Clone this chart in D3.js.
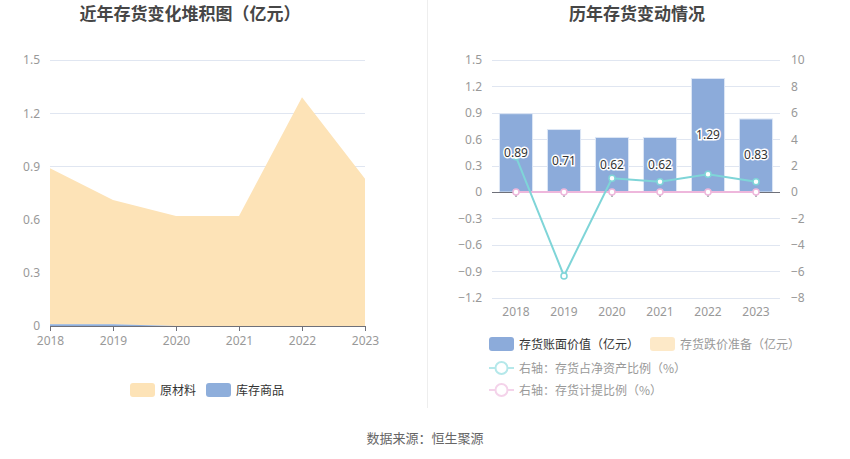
<!DOCTYPE html>
<html>
<head>
<meta charset="utf-8">
<script src="https://cdn.jsdelivr.net/npm/d3@7"></script>
<style>
  body { margin: 0; background: #fff; font-family: "Noto Sans CJK SC", "Noto Sans", sans-serif; }
</style>
</head>
<body>
<div id="chart"></div>
<script>
;(function () {
  const years = ["2018", "2019", "2020", "2021", "2022", "2023"]
  // left: stacked areas (亿元)
  const goods = [0.01, 0.01, 0, 0, 0, 0]
  const rawMaterials = [0.88, 0.70, 0.62, 0.62, 1.29, 0.83]
  const leftTicks = [0, 0.3, 0.6, 0.9, 1.2, 1.5]
  // right: bars and lines
  const bookValue = [0.89, 0.71, 0.62, 0.62, 1.29, 0.83]
  const netAssetRatio = [2.67, -6.36, 1.04, 0.78, 1.34, 0.78]
  const provisionRatio = [0, 0, 0, 0, 0, 0]
  const barTicks = [-1.2, -0.9, -0.6, -0.3, 0, 0.3, 0.6, 0.9, 1.2, 1.5]
  const rightTicks = [-8, -6, -4, -2, 0, 2, 4, 6, 8, 10]

  const width = 850
  const height = 459
  const gray = "#999"
  const gridColor = "#e0e6f1"

  const svg = d3.select("#chart").append("svg").attr("width", width).attr("height", height)

  // titles
  svg.append("text").attr("x", 190).attr("y", 20).attr("text-anchor", "middle")
    .attr("font-size", 17).attr("font-weight", "bold").attr("fill", "#464646").text("近年存货变化堆积图（亿元）")
  svg.append("text").attr("x", 637).attr("y", 20).attr("text-anchor", "middle")
    .attr("font-size", 17).attr("font-weight", "bold").attr("fill", "#464646").text("历年存货变动情况")

  // separator
  svg.append("line").attr("x1", 427.5).attr("x2", 427.5).attr("y1", 0).attr("y2", 408)
    .attr("stroke", "#eeeeee")

  // ---------- left chart ----------
  const xL = d3.scalePoint().domain(years).range([50, 365])
  const yL = d3.scaleLinear().domain([0, 1.5]).range([326, 60])

  svg.append("g").selectAll("line").data(leftTicks.filter(d => d > 0)).join("line")
    .attr("x1", 50).attr("x2", 365)
    .attr("y1", d => Math.round(yL(d)) + 0.5).attr("y2", d => Math.round(yL(d)) + 0.5)
    .attr("stroke", gridColor)

  const stackData = years.map((y, i) => ({ year: y, goods: goods[i], raw: rawMaterials[i] }))
  const stacked = d3.stack().keys(["goods", "raw"])(stackData)
  const areaColors = { goods: "#8eaedb", raw: "#fde3b7" }
  const area = d3.area()
    .x(d => xL(d.data.year))
    .y0(d => yL(d[0]))
    .y1(d => yL(d[1]))

  svg.append("g").selectAll("path").data(stacked.slice().reverse()).join("path")
    .attr("d", area)
    .attr("fill", d => areaColors[d.key])

  svg.append("g").attr("transform", "translate(0,326)")
    .call(d3.axisBottom(xL).tickSize(5).tickSizeOuter(0))
    .call(g => g.select(".domain").attr("stroke", "#6e7079"))
    .call(g => g.selectAll(".tick line").attr("stroke", "#6e7079"))
    .call(g => g.selectAll("text").attr("fill", gray).attr("font-size", 12).attr("dy", "0.9em")
      .attr("font-family", "'Noto Sans', sans-serif"))

  svg.append("g").attr("transform", "translate(43,0)")
    .call(d3.axisLeft(yL).tickValues(leftTicks).tickSize(0).tickFormat(d3.format("")))
    .call(g => g.select(".domain").remove())
    .call(g => g.selectAll("text").attr("fill", gray).attr("font-size", 12)
      .attr("font-family", "'Noto Sans', sans-serif"))

  // left legend
  const legL = [{ name: "原材料", color: "#fde3b7", x: 130 }, { name: "库存商品", color: "#8eaedb", x: 206 }]
  const lg = svg.append("g").selectAll("g").data(legL).join("g")
    .attr("transform", d => `translate(${d.x},383)`)
  lg.append("rect").attr("width", 25).attr("height", 14).attr("rx", 3).attr("fill", d => d.color)
  lg.append("text").attr("x", 30).attr("y", 12).attr("font-size", 12).attr("fill", "#333")
    .text(d => d.name)

  // ---------- right chart ----------
  const xR = d3.scaleBand().domain(years).range([492, 780]).paddingInner(0.31).paddingOuter(0.155)
  const yR = d3.scaleLinear().domain([-1.2, 1.5]).range([297.6, 60])
  const yR2 = d3.scaleLinear().domain([-8, 10]).range([297.6, 60])

  svg.append("g").selectAll("line").data(barTicks.filter(d => d !== 0)).join("line")
    .attr("x1", 492).attr("x2", 780)
    .attr("y1", d => Math.round(yR(d)) + 0.5).attr("y2", d => Math.round(yR(d)) + 0.5)
    .attr("stroke", gridColor)

  svg.append("g").selectAll("rect").data(bookValue).join("rect")
    .attr("x", (d, i) => xR(years[i]))
    .attr("width", xR.bandwidth())
    .attr("y", d => yR(d))
    .attr("height", d => yR(0) - yR(d))
    .attr("fill", "#8cabda")
    .attr("stroke", "#dde6f5")
    .attr("stroke-width", 1)

  // zero axis
  svg.append("line").attr("x1", 492).attr("x2", 780)
    .attr("y1", Math.round(yR(0)) + 0.5).attr("y2", Math.round(yR(0)) + 0.5)
    .attr("stroke", "#6e7079")
  svg.append("g").selectAll("line").data(years).join("line")
    .attr("x1", d => xR(d) + xR.bandwidth() / 2).attr("x2", d => xR(d) + xR.bandwidth() / 2)
    .attr("y1", Math.round(yR(0))).attr("y2", Math.round(yR(0)) + 5)
    .attr("stroke", "#6e7079")

  const cx = (d, i) => xR(years[i]) + xR.bandwidth() / 2
  const line = d3.line().x((d, i) => cx(d, i)).y(d => yR2(d))

  svg.append("path").datum(provisionRatio).attr("d", line)
    .attr("fill", "none").attr("stroke", "#eeb7dc").attr("stroke-width", 2)
  svg.append("path").datum(netAssetRatio).attr("d", line)
    .attr("fill", "none").attr("stroke", "#7fd5d8").attr("stroke-width", 2)

  svg.append("g").selectAll("circle").data(provisionRatio).join("circle")
    .attr("cx", cx).attr("cy", d => yR2(d)).attr("r", 3)
    .attr("fill", "#fff").attr("stroke", "#eeb7dc").attr("stroke-width", 1.5)
  svg.append("g").selectAll("circle").data(netAssetRatio).join("circle")
    .attr("cx", cx).attr("cy", d => yR2(d)).attr("r", 3)
    .attr("fill", "#fff").attr("stroke", "#7fd5d8").attr("stroke-width", 1.5)

  // bar labels
  svg.append("g").selectAll("text").data(bookValue).join("text")
    .attr("x", cx)
    .attr("y", d => (yR(d) + yR(0)) / 2 + 4)
    .attr("text-anchor", "middle")
    .attr("font-size", 12)
    .attr("font-family", "'Noto Sans', sans-serif")
    .attr("fill", "#333")
    .attr("stroke", "#fff").attr("stroke-width", 3).attr("paint-order", "stroke")
    .text(d => d)

  // axes labels
  svg.append("g").attr("transform", "translate(485,0)")
    .call(d3.axisLeft(yR).tickValues(barTicks).tickSize(0).tickFormat(d3.format("")))
    .call(g => g.select(".domain").remove())
    .call(g => g.selectAll("text").attr("fill", gray).attr("font-size", 12)
      .attr("font-family", "'Noto Sans', sans-serif"))
  svg.append("g").attr("transform", "translate(788,0)")
    .call(d3.axisRight(yR2).tickValues(rightTicks).tickSize(0))
    .call(g => g.select(".domain").remove())
    .call(g => g.selectAll("text").attr("fill", gray).attr("font-size", 12)
      .attr("font-family", "'Noto Sans', sans-serif"))
  svg.append("g").selectAll("text").data(years).join("text")
    .attr("x", d => xR(d) + xR.bandwidth() / 2).attr("y", 316)
    .attr("text-anchor", "middle").attr("font-size", 12).attr("fill", gray)
    .attr("font-family", "'Noto Sans', sans-serif")
    .text(d => d)

  // right legend
  const rl = svg.append("g")
  const rectItems = [
    { name: "存货账面价值（亿元）", color: "#8cabda", x: 489, text: "#333" },
    { name: "存货跌价准备（亿元）", color: "#fde9c8", x: 650, text: "#999" }
  ]
  const ri = rl.selectAll("g.r").data(rectItems).join("g").attr("class", "r")
    .attr("transform", d => `translate(${d.x},337)`)
  ri.append("rect").attr("width", 25).attr("height", 14).attr("rx", 3).attr("fill", d => d.color)
  ri.append("text").attr("x", 30).attr("y", 12).attr("font-size", 12).attr("fill", d => d.text).text(d => d.name)

  const lineItems = [
    { name: "右轴：存货占净资产比例（%）", color: "#b5e8ea", y: 368 },
    { name: "右轴：存货计提比例（%）", color: "#f4d3ea", y: 390 }
  ]
  const li = rl.selectAll("g.l").data(lineItems).join("g").attr("class", "l")
    .attr("transform", d => `translate(489,${d.y})`)
  li.append("line").attr("x1", 0).attr("x2", 25).attr("stroke", d => d.color).attr("stroke-width", 2)
  li.append("circle").attr("cx", 12.5).attr("r", 6).attr("fill", "#fff")
    .attr("stroke", d => d.color).attr("stroke-width", 2)
  li.append("text").attr("x", 30).attr("y", 5).attr("font-size", 12).attr("fill", "#999").text(d => d.name)

  // footer
  svg.append("text").attr("x", 425).attr("y", 443).attr("text-anchor", "middle")
    .attr("font-size", 13).attr("fill", "#666").text("数据来源：恒生聚源")
})()
</script>
</body>
</html>
